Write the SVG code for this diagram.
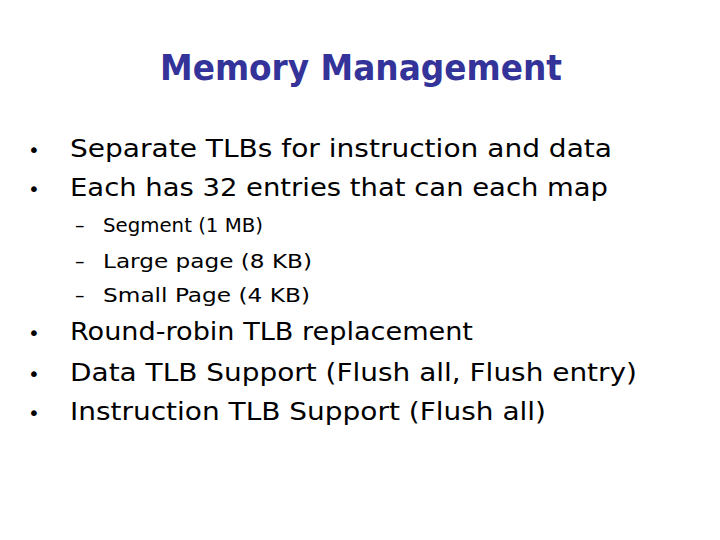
<svg xmlns="http://www.w3.org/2000/svg" width="720" height="540" viewBox="0 0 720 540">
<style>
.t{font-family:"DejaVu Sans","Liberation Sans",sans-serif;fill:#000}
.b{font-size:24px}
.s{font-size:19px}
.d{font-size:20px}
.h{font-family:"DejaVu Sans","Liberation Sans",sans-serif;font-size:36px;fill:#333399;font-weight:bold}
</style>
<rect width="720" height="540" fill="#fff"/>
<text class="h" x="160" y="80" textLength="402" lengthAdjust="spacingAndGlyphs">Memory Management</text>
<g class="t b">
<text class="d" x="28" y="157">•</text>
<text x="70" y="157" textLength="542" lengthAdjust="spacingAndGlyphs">Separate TLBs for instruction and data</text>
<text class="d" x="28" y="196">•</text>
<text x="70" y="196" textLength="538" lengthAdjust="spacingAndGlyphs">Each has 32 entries that can each map</text>
<text class="d" x="28" y="340">•</text>
<text x="70" y="340" textLength="403" lengthAdjust="spacingAndGlyphs">Round-robin TLB replacement</text>
<text class="d" x="28" y="381">•</text>
<text x="70" y="381" textLength="567" lengthAdjust="spacingAndGlyphs">Data TLB Support (Flush all, Flush entry)</text>
<text class="d" x="28" y="420">•</text>
<text x="70" y="420" textLength="476" lengthAdjust="spacingAndGlyphs">Instruction TLB Support (Flush all)</text>
</g>
<g class="t s">
<text x="75" y="232">–</text>
<text x="103" y="232" textLength="160" lengthAdjust="spacingAndGlyphs">Segment (1 MB)</text>
<text x="75" y="268">–</text>
<text x="103" y="268" textLength="209" lengthAdjust="spacingAndGlyphs">Large page (8 KB)</text>
<text x="75" y="302">–</text>
<text x="103" y="302" textLength="207" lengthAdjust="spacingAndGlyphs">Small Page (4 KB)</text>
</g>
</svg>
